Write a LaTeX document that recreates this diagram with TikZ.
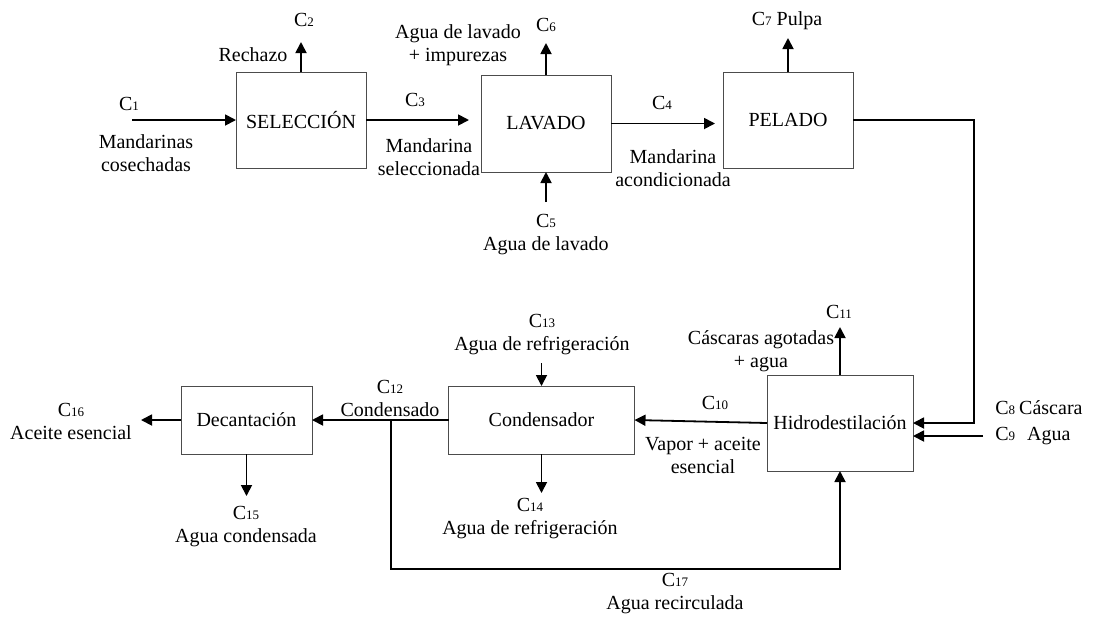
\documentclass[tikz,border=0pt]{standalone}
\usepackage{fontspec}
\setmainfont{Liberation Serif}
\usepackage{tikz}
\usetikzlibrary{arrows.meta}
\newcommand{\strm}[1]{C{\fontsize{6.5}{7}\selectfont #1}}
\tikzset{
  procnode/.style={draw=black!70,line width=0.5pt,minimum width=65pt,minimum height=48pt,inner sep=1pt,outer sep=0pt,font=\fontsize{10}{12}\selectfont},
  widenode/.style={procnode,minimum width=73pt},
  flatnode/.style={procnode,minimum height=34pt},
  lblnode/.style={align=center,inner sep=0pt,font=\fontsize{10}{11.5}\selectfont},
  flowedge/.style={-{Triangle[length=5.5pt,width=5.5pt]},line width=0.9pt,black},
}

\begin{document}
\begin{tikzpicture}[x=0.5pt,y=-0.5pt]
  \useasboundingbox (0,0) rectangle (1094,618);
  \node[procnode] (nsel) at (301,120) {SELECCIÓN};
  \node[procnode,minimum height=48.5pt] (nlav) at (546,123.5) {LAVADO};
  \node[procnode] (npel) at (788,120) {PELADO};
  \node[widenode] (nhid) at (840,423) {Hidrodestilación};
  \node[flatnode,minimum width=93pt] (ncon) at (541.5,420) {Condensador};
  \node[flatnode,minimum width=65.5pt] (ndec) at (246.5,420) {Decantación};
  \coordinate (c1in) at (132,120);
  \coordinate (c2out) at (301,42);
  \coordinate (c5in) at (546,202);
  \coordinate (c6out) at (546,43);
  \coordinate (c7out) at (788,38);
  \coordinate (c8turn) at (974,423);
  \coordinate (c9in) at (983,436);
  \coordinate (c11out) at (840,327);
  \coordinate (c13in) at (541.5,363);
  \coordinate (c14out) at (541.5,493);
  \coordinate (c15out) at (246.5,496);
  \coordinate (c16out) at (141,420);
  \coordinate (c17split) at (391,420);
  \coordinate (c17low) at (840,569);
  \node[lblnode] (lc1) at (129,104) {\strm{1}};
  \node[lblnode] (lman) at (146,153) {Mandarinas\\cosechadas};
  \node[lblnode] (lc2) at (304,20) {\strm{2}};
  \node[lblnode] (lrech) at (253,55) {Rechazo};
  \node[lblnode] (lc3) at (415,100) {\strm{3}};
  \node[lblnode] (lsel) at (429,157) {Mandarina\\seleccionada};
  \node[lblnode] (limp) at (458,45) {Agua de lavado\\+ impurezas};
  \node[lblnode] (lc6) at (546,25) {\strm{6}};
  \node[lblnode] (lc4) at (662,103) {\strm{4}};
  \node[lblnode] (lacon) at (673,168) {Mandarina\\acondicionada};
  \node[lblnode] (lc7) at (787,21) {\strm{7} Pulpa};
  \node[lblnode] (lc5) at (546,234.5) {\strm{5}\\Agua de lavado};
  \node[lblnode] (lc11) at (839,312) {\strm{11}};
  \node[lblnode] (lcasc) at (761,351) {Cáscaras agotadas\\+ agua};
  \node[lblnode] (lc10) at (715,403) {\strm{10}};
  \node[lblnode] (lvap) at (703,455) {Vapor + aceite\\esencial};
  \node[lblnode,anchor=west] (lc8) at (995,408) {\strm{8}\hspace{2pt}Cáscara};
  \node[lblnode,anchor=west] (lc9) at (995,436) {\strm{9}\hspace{6pt}Agua};
  \node[lblnode] (lc13) at (542,334.5) {\strm{13}\\Agua de refrigeración};
  \node[lblnode] (lc12) at (390,398) {\strm{12}\\Condensado};
  \node[lblnode] (lc16) at (71,421) {\strm{16}\\Aceite esencial};
  \node[lblnode] (lc15) at (246,527) {\strm{15}\\Agua condensada};
  \node[lblnode] (lc14) at (530,518.5) {\strm{14}\\Agua de refrigeración};
  \node[lblnode] (lc17) at (675,594) {\strm{17}\\Agua recirculada};
  \draw[flowedge] (c1in) -- (nsel.west);
  \draw[flowedge] (nsel.north) -- (c2out);
  \draw[flowedge,shorten >=6pt] (nsel.east) -- (nsel.east -| nlav.west);
  \draw[flowedge,shorten >=4pt] (nlav.east) -- (nlav.east -| npel.west);
  \draw[flowedge] (c5in) -- (nlav.south);
  \draw[flowedge] (nlav.north) -- (c6out);
  \draw[flowedge] (npel.north) -- (c7out);
  \draw[flowedge] (npel.east) -| (c8turn) -- (nhid.east);
  \draw[flowedge] (c9in) -- (c9in -| nhid.east);
  \draw[flowedge] (nhid.west) -- (ncon.east);
  \draw[flowedge] (nhid.north) -- (c11out);
  \draw[flowedge] (ncon.west) -- (ndec.east);
  \draw[flowedge] (c13in) -- (ncon.north);
  \draw[flowedge] (ncon.south) -- (c14out);
  \draw[flowedge] (ndec.south) -- (c15out);
  \draw[flowedge] (ndec.west) -- (c16out);
  \draw[flowedge] (c17split) |- (c17low) -- (nhid.south);
\end{tikzpicture}
\end{document}
